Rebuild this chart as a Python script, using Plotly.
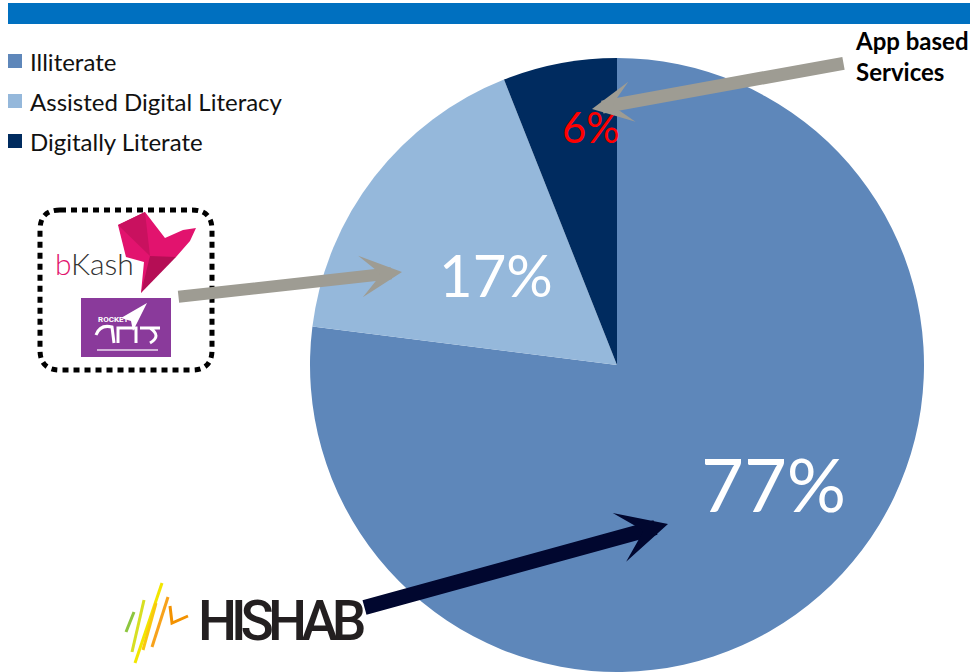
import plotly.graph_objects as go

# ---- data ----
labels = ["Illiterate", "Assisted Digital Literacy", "Digitally Literate"]
values = [77, 17, 6]
colors = ["#5E87BA", "#95B8DB", "#002B5F"]
label_font_sizes = [74, 58, 42]
label_font_colors = ["#FFFFFF", "#FFFFFF", "#FF0000"]
callout_lines = ["App based", "Services"]
logo_names = ["bKash", "ROCKET", "HISHAB"]

W, H = 974, 672


def X(px):
    return px / W


def Y(py):
    return 1 - py / H


def path(points, close=True):
    s = "M " + " L ".join(f"{X(a):.5f},{Y(b):.5f}" for a, b in points)
    return s + (" Z" if close else "")


fig = go.Figure()
fig.add_trace(go.Pie(
    labels=labels, values=values, sort=False, direction="clockwise", rotation=0,
    marker=dict(colors=colors, line=dict(width=0)),
    textinfo="none", hoverinfo="label+percent", showlegend=False,
    domain=dict(x=[310 / W, 924 / W], y=[0, 614 / H]),
))

shapes = []
annotations = []

# top banner
shapes.append(dict(type="rect", xref="paper", yref="paper", x0=X(8), x1=X(970), y0=Y(3), y1=Y(24),
                   fillcolor="#0070C0", line=dict(width=0), layer="below"))

# manual legend
for i, (lab, col) in enumerate(zip(labels, colors)):
    cy = 61 + 40 * i
    shapes.append(dict(type="rect", xref="paper", yref="paper", x0=X(8), x1=X(22), y0=Y(cy - 7), y1=Y(cy + 7),
                       fillcolor=col, line=dict(width=0)))
    annotations.append(dict(xref="paper", yref="paper", x=X(28), y=Y(cy), text=lab, showarrow=False,
                            xanchor="left", yanchor="middle", font=dict(family="Lato", size=24, color="#111111")))

# percentage labels
label_pos = [(773, 483), (496, 274), (591, 127)]
for v, (lx, ly), fs, fc in zip(values, label_pos, label_font_sizes, label_font_colors):
    annotations.append(dict(xref="paper", yref="paper", x=X(lx), y=Y(ly), text=f"{v}%", showarrow=False,
                            xanchor="center", yanchor="middle", font=dict(family="Lato", size=fs, color=fc)))

# callout text
annotations.append(dict(xref="paper", yref="paper", x=X(853), y=Y(56),
                        text="<br>".join(f"<b>{t}</b>" for t in callout_lines), showarrow=False,
                        xanchor="left", yanchor="middle", align="left",
                        font=dict(family="Lato", size=24, color="#000000")))

# arrows: (tip, tail, width, size, color)
arrows = [
    ((402, 272), (177, 297), 12, 0.58, "#9E9C93"),
    ((592, 109), (845, 63), 13, 0.52, "#9E9C93"),
    ((668, 524), (363, 608), 15, 0.56, "#01072F"),
]
for (tx, ty), (sx, sy), w, s, c in arrows:
    annotations.append(dict(xref="paper", yref="paper", x=X(tx), y=Y(ty), ax=sx - tx, ay=sy - ty,
                            axref="pixel", ayref="pixel", text="", showarrow=True, arrowhead=3,
                            arrowwidth=w, arrowsize=s, arrowcolor=c, standoff=0, startstandoff=0))

# dotted rounded box around logos
x0b, x1b, y0b, y1b, r = 40, 212, 210, 370, 20
box = (f"M {X(x0b + r)},{Y(y0b)} L {X(x1b - r)},{Y(y0b)} Q {X(x1b)},{Y(y0b)} {X(x1b)},{Y(y0b + r)} "
       f"L {X(x1b)},{Y(y1b - r)} Q {X(x1b)},{Y(y1b)} {X(x1b - r)},{Y(y1b)} "
       f"L {X(x0b + r)},{Y(y1b)} Q {X(x0b)},{Y(y1b)} {X(x0b)},{Y(y1b - r)} "
       f"L {X(x0b)},{Y(y0b + r)} Q {X(x0b)},{Y(y0b)} {X(x0b + r)},{Y(y0b)} Z")
shapes.append(dict(type="path", xref="paper", yref="paper", path=box,
                   line=dict(color="#000000", width=5, dash="6px,5px")))

# bKash bird (approximate logo)
bird = [(118, 225), (145, 212), (165, 238), (183, 230), (196, 228), (190, 241), (176, 257),
        (160, 262), (141, 293), (144, 262), (126, 257)]
shapes.append(dict(type="path", xref="paper", yref="paper", path=path(bird),
                   fillcolor="#E2136E", line=dict(width=0)))
shapes.append(dict(type="path", xref="paper", yref="paper", path=path([(118, 225), (145, 212), (150, 256)]),
                   fillcolor="#C9115F", line=dict(width=0)))
shapes.append(dict(type="path", xref="paper", yref="paper", path=path([(150, 256), (176, 257), (141, 293)]),
                   fillcolor="#B50E55", line=dict(width=0)))
annotations.append(dict(xref="paper", yref="paper", x=X(53), y=Y(263),
                        text="<span style='color:#E2136E'>b</span>Kash", showarrow=False,
                        xanchor="left", yanchor="middle",
                        font=dict(family="Lato", size=30, weight=300, color="#333333")))

# Rocket logo (approximate)
shapes.append(dict(type="rect", xref="paper", yref="paper", x0=X(81), x1=X(171), y0=Y(298), y1=Y(357),
                   fillcolor="#8A3A9B", line=dict(width=0)))
shapes.append(dict(type="path", xref="paper", yref="paper",
                   path=path([(121, 318), (147, 303), (133, 331), (131, 321)]),
                   fillcolor="#FFFFFF", line=dict(width=0)))
annotations.append(dict(xref="paper", yref="paper", x=X(96), y=Y(319), text="<b>" + logo_names[1] + "</b>",
                        showarrow=False, xanchor="left", yanchor="middle",
                        font=dict(family="Roboto", size=8, color="#FFFFFF")))
shapes.append(dict(type="path", xref="paper", yref="paper",
                   path=(f"M {X(96)},{Y(335)} Q {X(100)},{Y(324)} {X(112)},{Y(327)} L {X(114)},{Y(343)} "
                         f"M {X(118)},{Y(343)} L {X(118)},{Y(328)} L {X(136)},{Y(328)} L {X(136)},{Y(343)} "
                         f"M {X(140)},{Y(328)} L {X(160)},{Y(328)} M {X(150)},{Y(328)} Q {X(162)},{Y(336)} {X(150)},{Y(343)}"),
                   line=dict(color="#FFFFFF", width=3)))
shapes.append(dict(type="line", xref="paper", yref="paper", x0=X(97), x1=X(158), y0=Y(350), y1=Y(350),
                   line=dict(color="#E8D8EC", width=1.5)))

# HISHAB logo (approximate)
strokes = [
    ((126, 632), (134, 612), "#8DC63F", 3),
    ((132, 652), (144, 600), "#D7DF23", 3),
    ((135, 663), (162, 583), "#F2E600", 3),
    ((143, 650), (156, 603), "#F9C80E", 3),
    ((152, 647), (168, 597), "#F7A21B", 3),
]
for (ax_, ay_), (bx_, by_), col, w in strokes:
    shapes.append(dict(type="line", xref="paper", yref="paper", x0=X(ax_), y0=Y(ay_), x1=X(bx_), y1=Y(by_),
                       line=dict(color=col, width=w)))
shapes.append(dict(type="path", xref="paper", yref="paper",
                   path=f"M {X(170)},{Y(606)} L {X(172)},{Y(623)} L {X(188)},{Y(616)}",
                   line=dict(color="#F39200", width=3)))
annotations.append(dict(xref="paper", yref="paper", x=X(196), y=Y(621),
                        text="<span style='letter-spacing:-6px'>" + logo_names[2] + "</span>", showarrow=False,
                        xanchor="left", yanchor="middle",
                        font=dict(family="Roboto", size=55, weight=500, color="#231F20")))

fig.update_layout(
    width=W, height=H, margin=dict(l=0, r=0, t=0, b=0),
    paper_bgcolor="#FFFFFF", plot_bgcolor="#FFFFFF",
    shapes=shapes, annotations=annotations, showlegend=False,
)

fig.write_html("out.html")
